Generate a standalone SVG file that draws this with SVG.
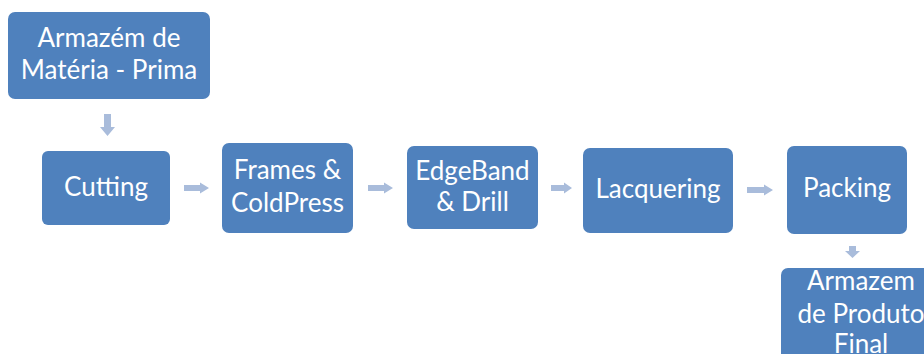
<svg xmlns="http://www.w3.org/2000/svg" width="924" height="354" viewBox="0 0 924 354">
  <style>
    .box { fill: #4F81BD; }
    .lbl { fill: #FFFFFF; font-family: Lato, "Open Sans", "Liberation Sans", sans-serif; font-size: 26px; text-anchor: middle; }
    .arr { fill: #A9BCDB; }
  </style>
  <rect width="924" height="354" fill="#FFFFFF"/>

  <g id="connectors">
    <!-- vertical: raw material store -> cutting -->
    <polygon class="arr" points="104,114 111,114 111,127 115,127 107.5,136 100,127 104,127"/>
    <!-- horizontal arrows between process steps -->
    <polygon class="arr" points="184,185 200,185 200,182.5 209,188 200,193.5 200,191 184,191"/>
    <polygon class="arr" points="368,185 384,185 384,182.5 393,188 384,193.5 384,191 368,191"/>
    <polygon class="arr" points="551,185 564,185 564,182.5 572,188 564,193.5 564,191 551,191"/>
    <polygon class="arr" points="747,187 764,187 764,184.5 773,190 764,195.5 764,193 747,193"/>
    <!-- vertical: packing -> finished goods store -->
    <polygon class="arr" points="849,246 856,246 856,251 860,251 852.5,258 845,251 849,251"/>
  </g>

  <g id="armazem-materia-prima">
    <rect class="box" x="8" y="12" width="202" height="87" rx="7"/>
    <text class="lbl" x="109" y="47">Armazém de</text>
    <text class="lbl" x="109" y="79">Matéria - Prima</text>
  </g>

  <g id="cutting">
    <rect class="box" x="42" y="151" width="128" height="74" rx="6"/>
    <text class="lbl" x="106" y="196">Cutting</text>
  </g>

  <g id="frames-coldpress">
    <rect class="box" x="222" y="143" width="131" height="90" rx="7"/>
    <text class="lbl" x="287.5" y="179">Frames &amp;</text>
    <text class="lbl" x="287.5" y="212">ColdPress</text>
  </g>

  <g id="edgeband-drill">
    <rect class="box" x="407" y="146" width="131" height="83" rx="7"/>
    <text class="lbl" x="472.5" y="180">EdgeBand</text>
    <text class="lbl" x="472.5" y="211">&amp; Drill</text>
  </g>

  <g id="lacquering">
    <rect class="box" x="583" y="148" width="150" height="85" rx="7"/>
    <text class="lbl" x="658" y="198">Lacquering</text>
  </g>

  <g id="packing">
    <rect class="box" x="787" y="146" width="120" height="88" rx="7"/>
    <text class="lbl" x="847" y="197">Packing</text>
  </g>

  <g id="armazem-produto-final">
    <rect class="box" x="781" y="268" width="160" height="100" rx="7"/>
    <text class="lbl" x="861" y="290">Armazem</text>
    <text class="lbl" x="861" y="323">de Produto</text>
    <text class="lbl" x="861" y="353">Final</text>
  </g>
</svg>
